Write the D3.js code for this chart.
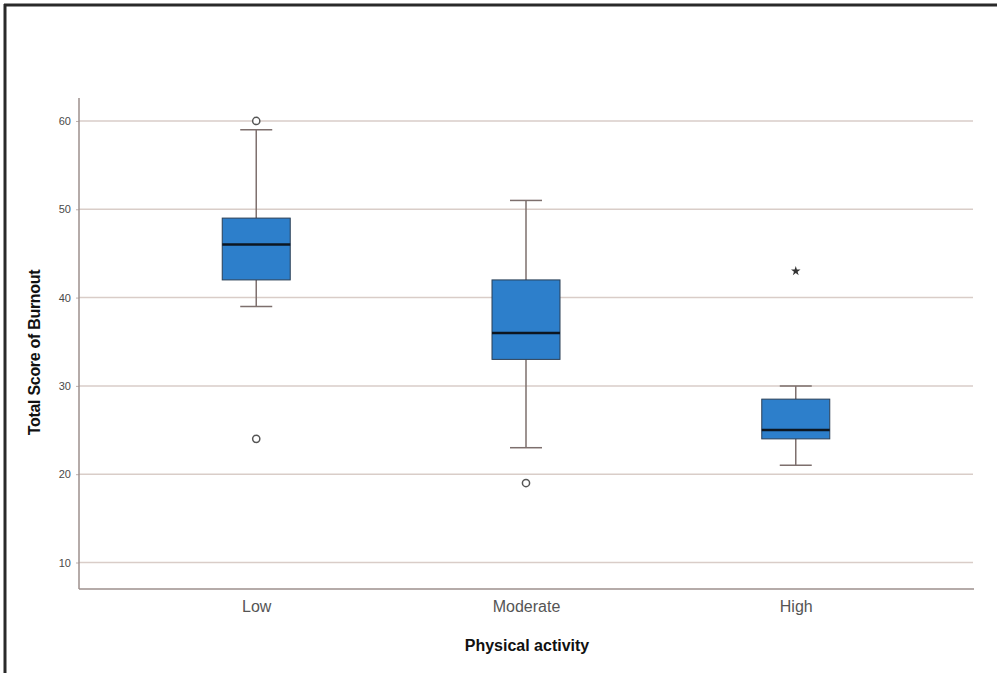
<!DOCTYPE html>
<html>
<head>
<meta charset="utf-8">
<script src="https://cdn.jsdelivr.net/npm/d3@7"></script>
<style>
  html, body { margin: 0; padding: 0; background: #fff; }
  svg { display: block; }
</style>
</head>
<body>
<svg id="chart" width="997" height="673"></svg>
<script>
// ---- data ----
const categories = ["Low", "Moderate", "High"];
const whiskerLow = [39, 23, 21];
const q1 = [42, 33, 24];
const median = [46, 36, 25];
const q3 = [49, 42, 28.5];
const whiskerHigh = [59, 51, 30];
const outliers = [[60, 24], [19], []];      // circles
const extremes = [[], [], [43]];            // stars
const yTicks = [10, 20, 30, 40, 50, 60];
const yDomain = [7, 62.6];
const xTitle = "Physical activity";
const yTitle = "Total Score of Burnout";

(function () {
// ---- layout ----
const svg = d3.select("#chart");
const W = 997, H = 673;
const pLeft = 79, pRight = 973, pTop = 98, pBottom = 589;
const font = "'Liberation Sans', Arial, sans-serif";

// frame (top and left borders)
svg.append("line").attr("x1", 4).attr("x2", W).attr("y1", 5).attr("y2", 5)
  .attr("stroke", "#2a2a2a").attr("stroke-width", 3);
svg.append("line").attr("x1", 5).attr("x2", 5).attr("y1", 4).attr("y2", H)
  .attr("stroke", "#2a2a2a").attr("stroke-width", 3);

const x = d3.scalePoint().domain(categories).range([pLeft, pRight]).padding(0.657);
const y = d3.scaleLinear().domain(yDomain).range([pBottom, pTop]);

// gridlines
svg.append("g").selectAll("line").data(yTicks).join("line")
  .attr("x1", pLeft).attr("x2", pRight)
  .attr("y1", d => y(d)).attr("y2", d => y(d))
  .attr("stroke", "#d9cdc8").attr("stroke-width", 1.5);

// y axis
const yAxis = d3.axisLeft(y).tickValues(yTicks).tickSize(3).tickPadding(5);
const gy = svg.append("g").attr("transform", `translate(${pLeft},0)`).call(yAxis);
gy.select(".domain").remove();
gy.selectAll(".tick line").attr("stroke", "#bdb0ad");
gy.selectAll(".tick text").attr("fill", "#4a4a4a").style("font-family", font).style("font-size", "11px");
svg.append("line").attr("x1", pLeft).attr("x2", pLeft).attr("y1", pTop).attr("y2", pBottom)
  .attr("stroke", "#9c8f8c").attr("stroke-width", 1.5);

// x axis
const xAxis = d3.axisBottom(x).tickSize(0).tickPadding(12);
const gx = svg.append("g").attr("transform", `translate(0,${pBottom})`).call(xAxis);
gx.select(".domain").remove();
gx.selectAll(".tick text").attr("fill", "#555").style("font-family", font).style("font-size", "16px");
svg.append("line").attr("x1", pLeft).attr("x2", pRight + 1).attr("y1", pBottom).attr("y2", pBottom)
  .attr("stroke", "#9c8f8c").attr("stroke-width", 1.5);

// titles
svg.append("text").attr("x", (pLeft + pRight) / 2 + 1).attr("y", 651)
  .attr("text-anchor", "middle").attr("fill", "#111")
  .style("font-family", font).style("font-size", "16px").style("font-weight", "bold")
  .text(xTitle);
svg.append("text").attr("transform", `translate(40,${(pTop + pBottom) / 2 + 9}) rotate(-90)`)
  .attr("text-anchor", "middle").attr("fill", "#111")
  .style("font-family", font).style("font-size", "16px").style("font-weight", "bold")
  .style("letter-spacing", "-0.3px")
  .text(yTitle);

// boxes
const boxW = 68, capW = 32;
const data = categories.map((c, i) => ({
  c, lo: whiskerLow[i], q1: q1[i], med: median[i], q3: q3[i], hi: whiskerHigh[i],
  out: outliers[i], ext: extremes[i]
}));
const g = svg.append("g").selectAll("g").data(data).join("g");
const wc = "#7d6f6d";
g.append("line").attr("x1", d => x(d.c)).attr("x2", d => x(d.c))
  .attr("y1", d => y(d.hi)).attr("y2", d => y(d.q3)).attr("stroke", wc).attr("stroke-width", 1.5);
g.append("line").attr("x1", d => x(d.c)).attr("x2", d => x(d.c))
  .attr("y1", d => y(d.q1)).attr("y2", d => y(d.lo)).attr("stroke", wc).attr("stroke-width", 1.5);
g.append("line").attr("x1", d => x(d.c) - capW / 2).attr("x2", d => x(d.c) + capW / 2)
  .attr("y1", d => y(d.hi)).attr("y2", d => y(d.hi)).attr("stroke", wc).attr("stroke-width", 1.5);
g.append("line").attr("x1", d => x(d.c) - capW / 2).attr("x2", d => x(d.c) + capW / 2)
  .attr("y1", d => y(d.lo)).attr("y2", d => y(d.lo)).attr("stroke", wc).attr("stroke-width", 1.5);
g.append("rect").attr("x", d => x(d.c) - boxW / 2).attr("width", boxW)
  .attr("y", d => y(d.q3)).attr("height", d => y(d.q1) - y(d.q3))
  .attr("fill", "#2d7fcb").attr("stroke", "#2b3f55").attr("stroke-width", 1);
g.append("line").attr("x1", d => x(d.c) - boxW / 2).attr("x2", d => x(d.c) + boxW / 2)
  .attr("y1", d => y(d.med)).attr("y2", d => y(d.med)).attr("stroke", "#0d1620").attr("stroke-width", 2.5);

// outliers
g.each(function(d) {
  const s = d3.select(this);
  s.selectAll("circle").data(d.out).join("circle")
    .attr("cx", x(d.c)).attr("cy", v => y(v)).attr("r", 3.6)
    .attr("fill", "#fff").attr("stroke", "#555").attr("stroke-width", 1.5);
  s.selectAll("path.ext").data(d.ext).join("path").attr("class", "ext")
    .attr("transform", v => `translate(${x(d.c)},${y(v)})`)
    .attr("d", d3.symbol(d3.symbolStar, 28))
    .attr("fill", "#333");
});
})();
</script>
</body>
</html>
